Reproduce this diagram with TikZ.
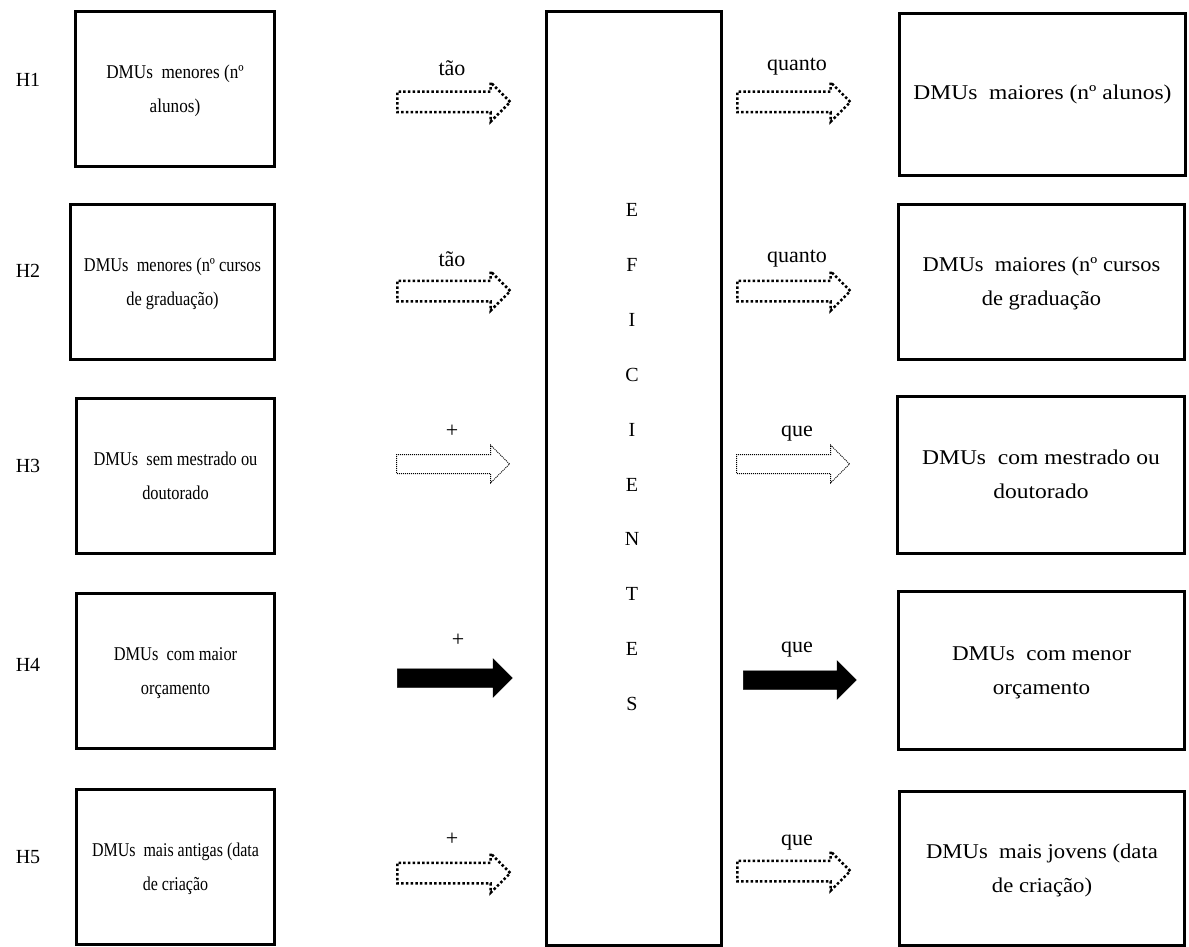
\documentclass[tikz,border=0pt]{standalone}
\usepackage{fontspec}
\usepackage{graphicx}
\setmainfont{Liberation Serif}
\usetikzlibrary{shapes.arrows}
\newcommand{\boxtext}[2]{\raisebox{-9pt}{\scalebox{#1}[1]{\begin{tabular}{@{}c@{}}#2\end{tabular}}}}

\begin{document}
\begin{tikzpicture}[x=1pt, y=-1pt,
    every node/.style={font=\fontsize{20}{34}\selectfont},
    lbox/.style={draw, rectangle, anchor=north west, line width=3pt, minimum width=199pt, minimum height=155pt, align=center, inner sep=0pt, font=\fontsize{19.5}{34}\selectfont},
    rbox/.style={lbox, minimum width=286pt, font=\fontsize{21}{34}\selectfont},
    cbox/.style={draw, rectangle, anchor=north west, line width=3pt, minimum width=175pt, minimum height=934pt, inner sep=0pt},
    arr/.style={single arrow, anchor=west, minimum height=113pt, minimum width=0pt, inner xsep=0pt, inner ysep=9pt, single arrow head extend=9.5pt},
    dotarr/.style={arr, draw, line width=2.5pt, dash pattern=on 2.5pt off 2.2pt},
    thinarr/.style={arr, draw, line width=1pt, densely dotted},
    fullarr/.style={arr, fill=black, draw=black, line width=0.5pt},
    word/.style={inner sep=0pt},
    link/.style={word, font=\fontsize{22}{26}\selectfont}]
    \useasboundingbox (0,0) rectangle (1189,947);

    % Left column
    \node[lbox] (left-1) at (74,10) {\boxtext{0.88}{DMUs~~menores (nº\\alunos)}};
    \node[lbox, minimum width=204pt] (left-2) at (69,203) {\boxtext{0.84}{DMUs~~menores (nº cursos\\de graduação)}};
    \node[lbox, minimum width=198pt] (left-3) at (75,397) {\boxtext{0.84}{DMUs~~sem mestrado ou\\doutorado}};
    \node[lbox, minimum width=198pt] (left-4) at (75,592) {\boxtext{0.84}{DMUs~~com maior\\orçamento}};
    \node[lbox, minimum width=198pt] (left-5) at (75,788) {\boxtext{0.82}{DMUs~~mais antigas (data\\de criação}};

    % Center
    \node[cbox] (center) at (545,10) {};
    \foreach \l [count=\i from 0] in {E,F,I,C,I,E,N,T,E,S}
        \node[word] (letter-\i) at (632,210+54.9*\i) {\l};

    % Right column
    \node[rbox, minimum height=162pt] (right-1) at (898,12) {\raisebox{-4pt}{\scalebox{1.12}[1]{DMUs~~maiores (nº alunos)}}};
    \node[rbox] (right-2) at (897,203) {\boxtext{1.07}{DMUs~~maiores (nº cursos\\de graduação}};
    \node[rbox, minimum width=287pt, minimum height=157pt] (right-3) at (896,395) {\boxtext{1.12}{DMUs~~com mestrado ou\\doutorado}};
    \node[rbox, minimum height=158pt] (right-4) at (897,590) {\boxtext{1.1}{DMUs~~com menor\\orçamento}};
    \node[rbox, minimum width=285pt, minimum height=154pt] (right-5) at (898,790) {\boxtext{1.08}{DMUs~~mais jovens (data\\de criação)}};

    % Row labels
    \foreach \y [count=\i] in {80,271,466,665,857}
        \node[word] (h-\i) at (28,\y) {H\i};

    % Arrows
    \node[dotarr] (arr-l-1) at (396,102) {};
    \node[dotarr] (arr-l-2) at (396,291) {};
    \node[thinarr] (arr-l-3) at (396,464) {};
    \node[fullarr, minimum height=115pt, single arrow head extend=10pt] (arr-l-4) at (397,678) {};
    \node[dotarr] (arr-l-5) at (396,873) {};

    \node[dotarr] (arr-r-1) at (736,102) {};
    \node[dotarr] (arr-r-2) at (736,291) {};
    \node[thinarr] (arr-r-3) at (736,464) {};
    \node[fullarr, single arrow head extend=10pt] (arr-r-4) at (743,680) {};
    \node[dotarr] (arr-r-5) at (736,871) {};

    % Arrow labels
    \node[link] (lab-l-1) at (452,68) {tão};
    \node[link] (lab-l-2) at (452,259) {tão};
    \node[link] (lab-l-3) at (452,431) {+};
    \node[link] (lab-l-4) at (458,640) {+};
    \node[link] (lab-l-5) at (452,839) {+};
    \node[link] (lab-r-1) at (797,67) {quanto};
    \node[link] (lab-r-2) at (797,259) {quanto};
    \node[link] (lab-r-3) at (797,434) {que};
    \node[link] (lab-r-4) at (797,650) {que};
    \node[link] (lab-r-5) at (797,843) {que};

\end{tikzpicture}
\end{document}
